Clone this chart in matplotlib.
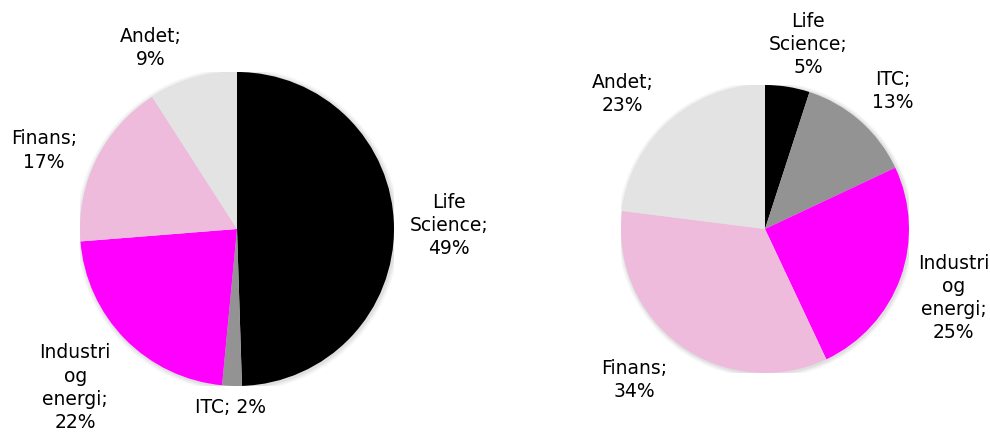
import matplotlib
matplotlib.use("Agg")
import matplotlib.pyplot as plt
from matplotlib.patches import Circle

# data
sectors = ["Life Science", "ITC", "Industri og energi", "Finans", "Andet"]
share_left = [49, 2, 22, 17, 9]
share_right = [5, 13, 25, 34, 23]
label_left = ["Life\nScience;\n49%", "ITC; 2%", "Industri\nog\nenergi;\n22%", "Finans;\n17%", "Andet;\n9%"]
label_right = ["Life\nScience;\n5%", "ITC;\n13%", "Industri\nog\nenergi;\n25%", "Finans;\n34%", "Andet;\n23%"]

colors = ["#000000", "#939393", "#ff00ff", "#efbbdc", "#e3e3e3"]

# label positions (in pie radius units), like Excel best fit
pos_left = [(1.35, 0.02), (-0.04, -1.14), (-1.03, -1.01), (-1.23, 0.50), (-0.55, 1.15)]
pos_right = [(0.30, 1.28), (0.89, 0.96), (1.31, -0.48), (-0.91, -1.05), (-0.99, 0.94)]

W, H = 990, 437
fig = plt.figure(figsize=(W / 100, H / 100), dpi=100)
fig.patch.set_facecolor("white")


def add_pie(cx, cy, r, values, labels, positions):
    ax = fig.add_axes([(cx - r) / W, (H - cy - r) / H, 2 * r / W, 2 * r / H])
    ax.axis("off")
    # soft shadow
    for i, a in enumerate([0.05, 0.04, 0.03]):
        ax.add_patch(Circle((0.006, -0.006), 1 + 0.01 * (i + 1), color="black", alpha=a, lw=0, zorder=0))
    ax.pie(values, colors=colors, startangle=90, counterclock=False, radius=1,
           wedgeprops=dict(linewidth=0), frame=False)
    ax.set_xlim(-1, 1)
    ax.set_ylim(-1, 1)
    for lab, (x, y) in zip(labels, positions):
        ax.text(x, y, lab, ha="center", va="center", fontsize=13.5, color="black",
                linespacing=1.27, clip_on=False)


add_pie(237, 229, 157, share_left, label_left, pos_left)
add_pie(765, 229, 144, share_right, label_right, pos_right)

fig.savefig("out.png", dpi=100, facecolor="white")
